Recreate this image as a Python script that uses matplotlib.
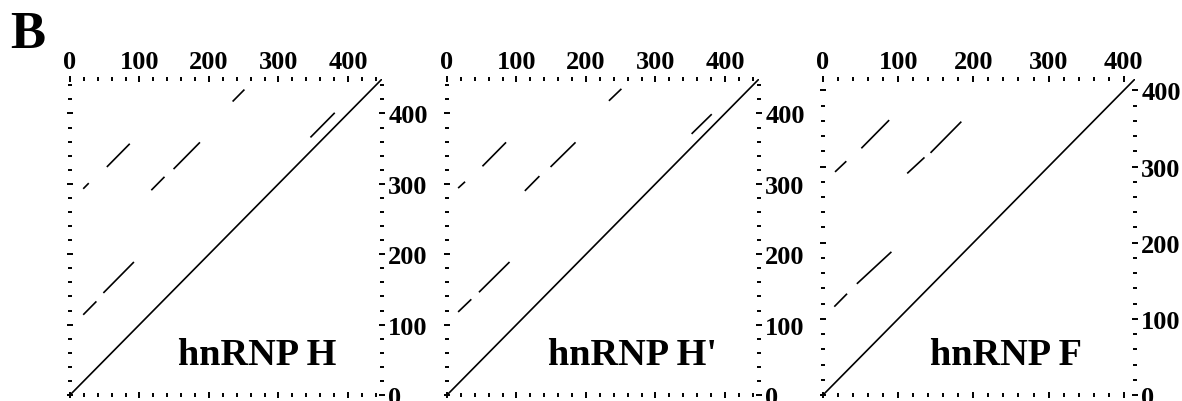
import matplotlib.pyplot as plt
from matplotlib.ticker import MultipleLocator

names = ["hnRNP H", "hnRNP H'", "hnRNP F"]
lengths = [449, 449, 415]

# similarity segments: x0, y0, x1, y1 (residue numbers)
segs_h = [[0, 0, 449, 449],
          [19, 293, 27, 301], [53, 324, 86, 357],
          [117, 291, 136, 310], [149, 321, 187, 359],
          [19, 114, 38, 133], [48, 145, 92, 189],
          [234, 417, 251, 434], [346, 366, 381, 401]]
segs_h2 = [[0, 0, 449, 449],
           [16, 294, 26, 303], [51, 325, 85, 359],
           [112, 290, 133, 311], [149, 324, 185, 359],
           [16, 118, 35, 136], [46, 146, 90, 189],
           [233, 418, 251, 435], [352, 371, 381, 399]]
segs_f = [[0, 0, 415, 415],
          [16, 293, 31, 307], [51, 324, 88, 361],
          [112, 291, 135, 312], [143, 318, 184, 359],
          [15, 116, 32, 133], [45, 146, 91, 188]]
all_segs = [segs_h, segs_h2, segs_f]

label_x = [0.60, 0.595, 0.585]
lefts = [70, 447, 823]

plt.rcParams['font.family'] = ['Liberation Serif', 'DejaVu Serif']
plt.rcParams['font.weight'] = 'bold'

fig = plt.figure(figsize=(11.82, 4.02), dpi=100)

for i in range(3):
    ax = fig.add_axes([lefts[i] / 1182, 6 / 402, 312 / 1182, 316 / 402])
    L = lengths[i]
    for s in all_segs[i]:
        ax.plot([s[0], s[2]], [s[1], s[3]], color='black', lw=1.2, solid_capstyle='butt')
    ax.set_xlim(0, L)
    ax.set_ylim(0, L)
    for sp in ax.spines.values():
        sp.set_visible(False)
    ax.xaxis.set_major_locator(MultipleLocator(100))
    ax.xaxis.set_minor_locator(MultipleLocator(20))
    ax.yaxis.set_major_locator(MultipleLocator(100))
    ax.yaxis.set_minor_locator(MultipleLocator(20))
    ax.tick_params(which='both', top=True, bottom=True, left=True, right=True,
                   labeltop=True, labelbottom=False, labelleft=False, labelright=True,
                   direction='inout', width=1.4)
    ax.tick_params(which='major', length=4, labelsize=19, pad=2.5)
    ax.tick_params(which='minor', length=2.2)
    for lab in ax.get_xticklabels() + ax.get_yticklabels():
        lab.set_fontweight('bold')
    ax.text(label_x[i], 0.128, names[i], transform=ax.transAxes, ha='center', va='center',
            fontsize=27.5, fontweight='bold')

fig.text(10 / 1182, 1 - 48 / 402, 'B', fontsize=38, fontweight='bold', ha='left', va='baseline')

plt.savefig('out.png', dpi=100)
